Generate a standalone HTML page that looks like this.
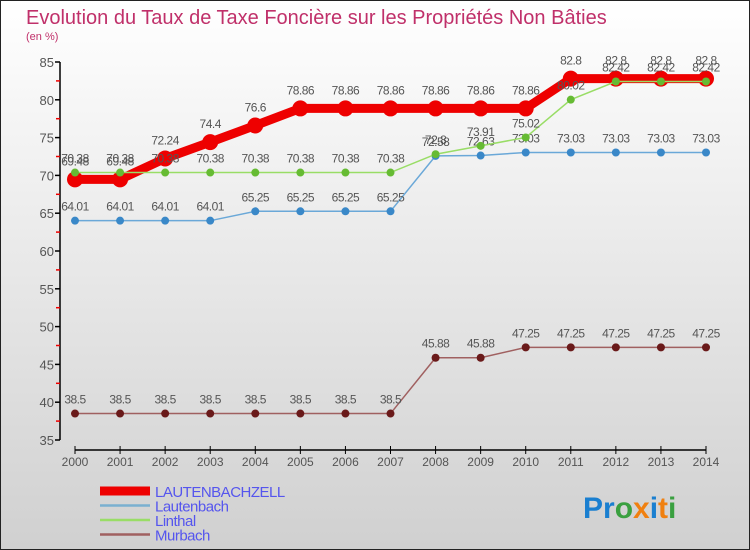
<!DOCTYPE html>
<html><head><meta charset="utf-8"><style>
body{margin:0}
svg{display:block;font-family:"Liberation Sans",sans-serif}
</style></head><body>
<svg width="750" height="550" viewBox="0 0 750 550" id="chart">
<defs><linearGradient id="bg" x1="0" y1="0" x2="0" y2="1"><stop offset="0" stop-color="#ffffff"/><stop offset="1" stop-color="#d0d0d0"/></linearGradient></defs>
<rect x="0.5" y="0.5" width="749" height="549" fill="url(#bg)" stroke="#222"/>
<text x="26" y="24" font-size="20" fill="#c0306a">Evolution du Taux de Taxe Foncière sur les Propriétés Non Bâties</text>
<text x="26" y="40" font-size="11" fill="#c0306a">(en %)</text>
<g id="axes"></g>
<g id="series"></g>
<g id="legend"></g>
<text x="583" y="518" font-size="30" font-weight="bold"><tspan fill="#1a7fd0">Pr</tspan><tspan fill="#3aa040">o</tspan><tspan fill="#f08010">x</tspan><tspan fill="#1a7fd0">i</tspan><tspan fill="#f08010">t</tspan><tspan fill="#3aa040">i</tspan></text>
</svg>
<script>
const years=[2000,2001,2002,2003,2004,2005,2006,2007,2008,2009,2010,2011,2012,2013,2014];
const yTicks=[35,40,45,50,55,60,65,70,75,80,85];
const lautenbachzell=[69.48,69.48,72.24,74.4,76.6,78.86,78.86,78.86,78.86,78.86,78.86,82.8,82.8,82.8,82.8];
const lautenbach=[64.01,64.01,64.01,64.01,65.25,65.25,65.25,65.25,72.58,72.63,73.03,73.03,73.03,73.03,73.03];
const linthal=[70.38,70.38,70.38,70.38,70.38,70.38,70.38,70.38,72.8,73.91,75.02,80.02,82.42,82.42,82.42];
const murbach=[38.5,38.5,38.5,38.5,38.5,38.5,38.5,38.5,45.88,45.88,47.25,47.25,47.25,47.25,47.25];
const names=["LAUTENBACHZELL","Lautenbach","Linthal","Murbach"];
const NS="http://www.w3.org/2000/svg";
const X=i=>75+i*(706-75)/(years.length-1);
const Y=v=>440-(v-35)*(440-62)/50;
function mk(t,a,p){const e=document.createElementNS(NS,t);for(const k in a)e.setAttribute(k,a[k]);p.appendChild(e);return e;}
const ax=document.getElementById('axes');
let e=mk('line',{x1:60,y1:Y(85),x2:60,y2:440,stroke:'#000','stroke-width':1.5},ax);


yTicks.forEach((v,i)=>{
 mk('line',{x1:55,x2:60,y1:Y(v),y2:Y(v),stroke:'#000','stroke-width':1.5},ax);
 if(i<yTicks.length-1)mk('line',{x1:56,x2:60,y1:Y(v+2.5),y2:Y(v+2.5),stroke:'#e00','stroke-width':1.5},ax);
 const t=mk('text',{x:54,y:Y(v)+5,'text-anchor':'end','font-size':13,fill:'#555'},ax);
 t.textContent=v;
 
 
});
e=mk('line',{x1:75,y1:450,x2:706,y2:450,stroke:'#000','stroke-width':1.5},ax);


years.forEach((y,i)=>{
 mk('line',{x1:X(i),x2:X(i),y1:446,y2:454,stroke:'#000'},ax);
 const t=mk('text',{x:X(i),y:466,'text-anchor':'middle','font-size':12,fill:'#555'},ax);
 t.textContent=y;
 
 
});
const sg=document.getElementById('series');
const defs=[[lautenbachzell,'#ee0000','#ee0000',9,8,'lautenbachzell'],[murbach,'#a06060','#6a1a1a',1.5,4,'murbach'],[lautenbach,'#6aa8d8','#3a88c8',1.5,4,'lautenbach'],[linthal,'#99dd66','#66bb33',1.5,4,'linthal']];
defs.forEach(([d,lc,pc,w,r,n])=>{
 const g=mk('g',{},sg);
 
 
 const pl=mk('polyline',{points:d.map((v,i)=>X(i)+','+Y(v)).join(' '),fill:'none',stroke:lc,'stroke-width':w},g);
 
 
 d.forEach((v,i)=>{
  const c=mk('circle',{cx:X(i),cy:Y(v),r:r,fill:pc},g);
  
  
  const t=mk('text',{x:X(i),y:Y(v)-(r+6),'text-anchor':'middle','font-size':12,fill:'#555','letter-spacing':'-0.5'},g);
  t.textContent=v;
  
  
 });
});
const lg=document.getElementById('legend');
const lcol=['#ee0000','#7ab0d0','#99dd66','#a06060'];
names.forEach((n,i)=>{
 const y=495+i*14.5;
 const l=mk('line',{x1:100,x2:150,y1:y-4,y2:y-4,stroke:lcol[i],'stroke-width':i==0?9:2.5},lg);
 
 
 const t=mk('text',{x:155,y:y+2,'font-size':15,fill:'#5555ee','letter-spacing':'-0.5'},lg);
 t.textContent=n;
 
 
});
</script>
</body></html>
